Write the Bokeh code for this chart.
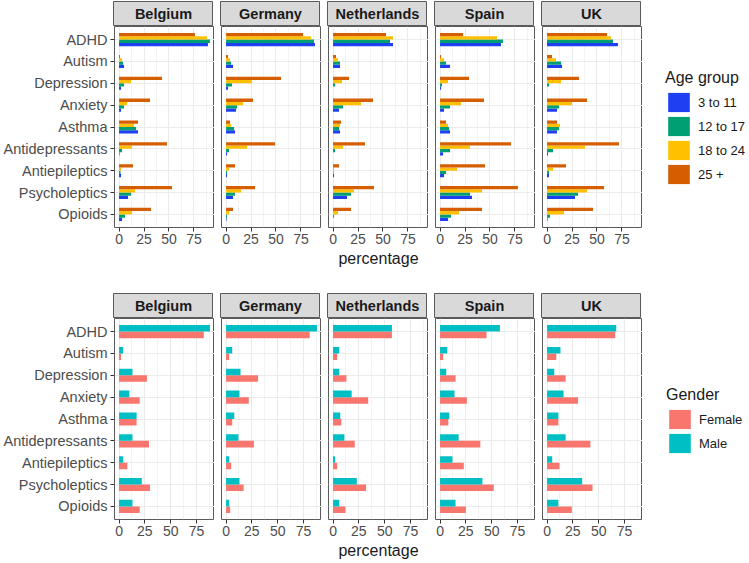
from bokeh.plotting import figure
from bokeh.layouts import row, column
from bokeh.models import (ColumnDataSource, FactorRange, Range1d, FixedTicker,
                          Legend, LegendItem)
from bokeh.transform import dodge
from bokeh.core.properties import value
from bokeh.embed import file_html
from bokeh.resources import INLINE

FONT = "Liberation Sans"

conditions = ["ADHD", "Autism", "Depression", "Anxiety", "Asthma",
              "Antidepressants", "Antiepileptics", "Psycholeptics", "Opioids"]
countries = ["Belgium", "Germany", "Netherlands", "Spain", "UK"]
age_groups = ["3 to 11", "12 to 17", "18 to 24", "25 +"]
genders = ["Female", "Male"]
x_ticks = [0, 25, 50, 75]
x_minor = [12.5, 37.5, 62.5, 87.5]

# percentages by age group (order of `conditions`)
belgium_3_11 = [89, 5, 2, 2, 19, 0.5, 2, 9, 3]
belgium_12_17 = [91, 4, 5, 5, 17, 3, 1.5, 12, 6]
belgium_18_24 = [88, 3, 12, 8, 15, 13, 2, 16, 13]
belgium_25 = [76, 1, 43, 31, 19, 48, 14, 53, 32]

germany_3_11 = [89, 7, 2, 10, 9, 1, 1, 7, 0.5]
germany_12_17 = [88, 5, 6, 11, 8, 3, 1, 9, 1]
germany_18_24 = [85, 4, 26, 17, 5, 21, 3, 15, 3]
germany_25 = [77, 2, 55, 27, 4, 49, 9, 29, 7]

netherlands_3_11 = [60, 7, 0, 6, 7, 0, 1, 14, 0]
netherlands_12_17 = [57, 7, 2, 10, 6, 2, 0.5, 18, 1]
netherlands_18_24 = [60, 5, 9, 28, 7, 10, 1, 21, 5]
netherlands_25 = [53, 3, 16, 40, 8, 32, 6, 41, 18]

spain_3_11 = [61, 10, 1, 4, 10, 3, 4, 32, 8]
spain_12_17 = [63, 6, 2, 10, 9, 10, 6, 30, 11]
spain_18_24 = [57, 4, 8, 21, 8, 30, 17, 42, 19]
spain_25 = [23, 1, 29, 44, 6, 71, 45, 78, 42]

uk_3_11 = [71, 15, 0, 10, 10, 1, 2, 28, 0.5]
uk_12_17 = [66, 14, 2, 12, 12, 6, 2, 31, 3]
uk_18_24 = [64, 9, 14, 25, 13, 38, 6, 40, 17]
uk_25 = [60, 5, 32, 40, 10, 72, 19, 57, 46]

# percentages by gender
belgium_female = [82, 2, 27, 20, 17, 29, 8, 30, 20]
belgium_male = [88, 4, 13, 10, 17, 13, 4, 22, 13]
germany_female = [81, 3, 31, 22, 6, 27, 5, 17, 4]
germany_male = [88, 6, 14, 13, 8, 12, 3, 13, 3]
netherlands_female = [57, 4, 13, 34, 8, 21, 4, 32, 12]
netherlands_male = [57, 6, 6, 18, 7, 11, 2, 23, 6]
spain_female = [45, 3, 15, 26, 8, 39, 23, 52, 25]
spain_male = [58, 7, 6, 14, 9, 18, 12, 41, 15]
uk_female = [66, 9, 18, 30, 11, 42, 12, 44, 24]
uk_male = [67, 13, 7, 16, 11, 18, 5, 34, 11]

age_colors = ["#1F3FF2", "#009E73", "#FFC000", "#D55E00"]
gender_colors = ["#F8766D", "#00BFC4"]

age_data = {
    "Belgium": [belgium_3_11, belgium_12_17, belgium_18_24, belgium_25],
    "Germany": [germany_3_11, germany_12_17, germany_18_24, germany_25],
    "Netherlands": [netherlands_3_11, netherlands_12_17, netherlands_18_24, netherlands_25],
    "Spain": [spain_3_11, spain_12_17, spain_18_24, spain_25],
    "UK": [uk_3_11, uk_12_17, uk_18_24, uk_25],
}
gender_data = {
    "Belgium": [belgium_female, belgium_male],
    "Germany": [germany_female, germany_male],
    "Netherlands": [netherlands_female, netherlands_male],
    "Spain": [spain_female, spain_male],
    "UK": [uk_female, uk_male],
}

FRAME_W = 100
FRAME_H = 201
FIRST_LEFT = 113
GAP = 7
BORDER = "#5A5A5A"
GRID = "#EBEBEB"


def strip(country, left):
    s = figure(frame_width=FRAME_W, frame_height=25,
               x_range=FactorRange(factors=[country]), y_range=Range1d(0, 1),
               min_border=0, min_border_left=left, min_border_top=1,
               toolbar_location=None, output_backend="svg")
    s.axis.visible = False
    s.grid.visible = False
    s.background_fill_color = "#D9D9D9"
    s.outline_line_color = BORDER
    s.text(x=[country], y=[0.5], text=[country], text_align="center",
           text_baseline="middle", text_font=value(FONT),
           text_font_style="bold", text_font_size="14.5px",
           text_color="#1A1A1A")
    return s


def facet(series_list, colors, offsets, bar_h, xmax, left, first, xlabel, bottom):
    p = figure(frame_width=FRAME_W, frame_height=FRAME_H,
               y_range=FactorRange(factors=conditions[::-1], range_padding=0.1,
                                   range_padding_units="absolute"),
               x_range=Range1d(-0.05 * xmax, 1.05 * xmax),
               min_border=0, min_border_left=left, min_border_bottom=bottom,
               toolbar_location=None, output_backend="svg")
    p.outline_line_color = BORDER
    p.outline_line_width = 1
    p.background_fill_color = "white"
    for vals, col, off in zip(series_list, colors, offsets):
        src = ColumnDataSource(dict(cond=conditions, val=vals))
        p.hbar(y=dodge("cond", off, range=p.y_range), left=0, right="val",
               height=bar_h, fill_color=col, line_color=None, source=src)
    t = FixedTicker(ticks=x_ticks, minor_ticks=x_minor)
    p.xaxis.ticker = t
    p.xgrid.ticker = t
    p.xgrid.grid_line_color = GRID
    p.xgrid.grid_line_width = 1.1
    p.xgrid.minor_grid_line_color = GRID
    p.xgrid.minor_grid_line_width = 0.6
    p.ygrid.grid_line_color = GRID
    p.ygrid.grid_line_width = 1.1
    for ax in (p.xaxis[0], p.yaxis[0]):
        ax.axis_line_color = None
        ax.major_tick_line_color = "#333333"
        ax.major_tick_out = 4
        ax.major_tick_in = 0
        ax.minor_tick_line_color = None
        ax.major_label_text_font = FONT
        ax.major_label_text_color = "#4D4D4D"
    p.xaxis.major_label_text_font_size = "14px"
    p.xaxis.major_label_standoff = 2
    p.yaxis.major_label_text_font_size = "14.5px"
    p.yaxis.major_label_standoff = 3
    if not first:
        p.yaxis.visible = False
    if xlabel:
        p.xaxis.axis_label = xlabel
        p.xaxis.axis_label_text_font = FONT
        p.xaxis.axis_label_text_font_size = "16px"
        p.xaxis.axis_label_text_font_style = "normal"
        p.xaxis.axis_label_text_color = "#1A1A1A"
        p.xaxis.axis_label_standoff = 3
    return p


def legend_fig(title, labels, colors, loc, bottom):
    lf = figure(frame_width=108, frame_height=FRAME_H, x_range=Range1d(0, 1),
                y_range=Range1d(0, 1), min_border=0, min_border_bottom=bottom,
                toolbar_location=None, output_backend="svg")
    lf.axis.visible = False
    lf.grid.visible = False
    lf.outline_line_color = None
    items = []
    for lab, col in zip(labels, colors):
        # a single bar placed outside the visible range: only its legend key shows
        r = lf.hbar(y="y", right="r", left=0, height=0.1, fill_color=col,
                    line_color=None, source=ColumnDataSource(dict(y=[-10], r=[0])))
        items.append(LegendItem(label=lab, renderers=[r]))
    leg = Legend(items=items, title=title, location=loc,
                 glyph_width=27, glyph_height=24, spacing=0, padding=0,
                 margin=0, border_line_color=None, background_fill_alpha=0,
                 label_standoff=6, title_standoff=3,
                 title_text_font=FONT, title_text_font_size="16px",
                 title_text_font_style="normal", title_text_color="#1A1A1A",
                 label_text_font=FONT, label_text_font_size="13px",
                 label_text_color="#1A1A1A", label_height=24)
    lf.add_layout(leg)
    return lf


top_max = max(max(v) for c in countries for v in age_data[c])
bot_max = max(max(v) for c in countries for v in gender_data[c])

age_offsets = [-0.225, -0.075, 0.075, 0.225]
gender_offsets = [-0.15, 0.15]

top_strips, top_facets, bot_strips, bot_facets = [], [], [], []
for i, c in enumerate(countries):
    left = FIRST_LEFT if i == 0 else GAP
    xl = "percentage" if c == "Netherlands" else None
    top_strips.append(strip(c, left))
    top_facets.append(facet(age_data[c], age_colors, age_offsets, 0.15,
                            top_max, left, i == 0, xl, 65))
    bot_strips.append(strip(c, left))
    bot_facets.append(facet(gender_data[c], gender_colors, gender_offsets, 0.3,
                            bot_max, left, i == 0, xl, 40))

top_facets.append(legend_fig("Age group", age_groups, age_colors, (23, 41), 65))
bot_facets.append(legend_fig("Gender", genders, gender_colors, (24, 64), 40))

layout = column(row(*top_strips), row(*top_facets),
                row(*bot_strips), row(*bot_facets))

open("out.html", "w").write(file_html(layout, INLINE))
